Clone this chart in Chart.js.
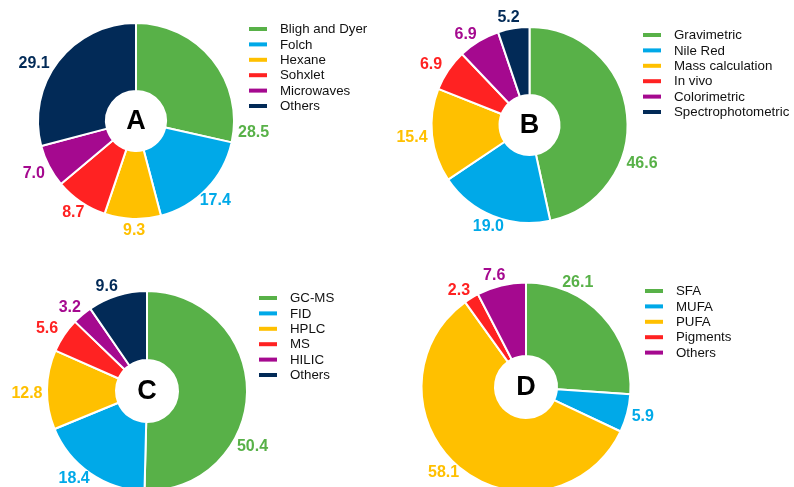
<!DOCTYPE html>
<html>
<head>
<meta charset="utf-8">
<script src="https://cdn.jsdelivr.net/npm/chart.js@4.4.1/dist/chart.umd.min.js"></script>
<style>
  html, body { margin: 0; padding: 0; background: #fff; overflow: hidden; width: 794px; height: 487px; }
  .panel { position: absolute; }
</style>
</head>
<body>
<div class="panel" style="left:0;top:0"><canvas id="chartA" width="397" height="245"></canvas></div>
<div class="panel" style="left:397px;top:0"><canvas id="chartB" width="397" height="245"></canvas></div>
<div class="panel" style="left:0;top:245px"><canvas id="chartC" width="397" height="262"></canvas></div>
<div class="panel" style="left:397px;top:245px"><canvas id="chartD" width="397" height="262"></canvas></div>
<script>
// Lipid extraction methods (%)
const extractionMethods = ['Bligh and Dyer', 'Folch', 'Hexane', 'Sohxlet', 'Microwaves', 'Others'];
const extractionShare = [28.5, 17.4, 9.3, 8.7, 7.0, 29.1];

// Lipid quantification methods (%)
const quantMethods = ['Gravimetric', 'Nile Red', 'Mass calculation', 'In vivo', 'Colorimetric', 'Spectrophotometric'];
const quantShare = [46.6, 19.0, 15.4, 6.9, 6.9, 5.2];

// Lipid analysis techniques (%)
const analysisMethods = ['GC-MS', 'FID', 'HPLC', 'MS', 'HILIC', 'Others'];
const analysisShare = [50.4, 18.4, 12.8, 5.6, 3.2, 9.6];

// Lipid classes reported (%)
const lipidClasses = ['SFA', 'MUFA', 'PUFA', 'Pigments', 'Others'];
const lipidShare = [26.1, 5.9, 58.1, 2.3, 7.6];

const panelLetters = ['A', 'B', 'C', 'D'];

const palette = ['#58B148', '#00A9E8', '#FFC000', '#FF2222', '#A5098F', '#022A57'];
const FONT = "'Liberation Sans', Arial, Helvetica, sans-serif";

// Draws the centre letter, the outside value labels and the legend
const doughnutDecor = {
  id: 'doughnutDecor',
  afterDatasetsDraw(chart, args, opts) {
    const ctx = chart.ctx;
    const ds = chart.data.datasets[0];
    const meta = chart.getDatasetMeta(0);
    const colors = ds.backgroundColor;

    ctx.save();
    // white centre disc with panel letter
    const arc0 = meta.data[0];
    ctx.beginPath();
    ctx.arc(arc0.x, arc0.y, opts.hole, 0, Math.PI * 2);
    ctx.fillStyle = '#fff';
    ctx.fill();
    ctx.fillStyle = '#000';
    ctx.font = 'bold 27px ' + FONT;
    ctx.textAlign = 'center';
    ctx.textBaseline = 'middle';
    ctx.fillText(opts.letter, arc0.x, arc0.y + 1);

    // value labels just outside each slice; labelAt = position along the slice (0..1)
    ctx.font = 'bold 16px ' + FONT;
    meta.data.forEach((arc, i) => {
      const frac = (opts.labelAt && opts.labelAt[i] != null) ? opts.labelAt[i] : 0.5;
      const a = arc.startAngle + (arc.endAngle - arc.startAngle) * frac;
      const txt = ds.data[i].toFixed(1);
      const hw = ctx.measureText(txt).width / 2;
      const hh = 7;
      const c = Math.abs(Math.cos(a)), s = Math.abs(Math.sin(a));
      const t = Math.min(c > 1e-6 ? hw / c : 1e9, s > 1e-6 ? hh / s : 1e9);
      const d = arc.outerRadius + opts.gap + t;
      ctx.fillStyle = colors[i];
      ctx.fillText(txt, arc.x + Math.cos(a) * d, arc.y + Math.sin(a) * d);
    });

    // legend
    ctx.font = '13.3px ' + FONT;
    ctx.textAlign = 'left';
    chart.data.labels.forEach((lab, i) => {
      const y = opts.legendY + i * 15.4;
      ctx.fillStyle = colors[i];
      ctx.fillRect(opts.legendX, y - 2, 18, 4);
      ctx.fillStyle = '#111';
      ctx.fillText(lab, opts.legendX + 31, y + 0.5);
    });
    ctx.restore();
  }
};

function makeDoughnut(id, labels, values, layout) {
  const canvas = document.getElementById(id);
  const W = canvas.width, H = canvas.height;
  const s = Math.min(layout.cx, layout.cy, W - layout.cx, H - layout.cy);
  return new Chart(canvas, {
    type: 'doughnut',
    data: {
      labels: labels,
      datasets: [{
        data: values,
        backgroundColor: palette.slice(0, values.length),
        borderColor: '#fff',
        borderWidth: 2,
        radius: layout.r + 1,
        cutout: (layout.hole / (layout.r + 1) * 100) + '%'
      }]
    },
    options: {
      responsive: false,
      animation: false,
      events: [],
      radius: layout.r + 1,
      cutout: (layout.hole / (layout.r + 1) * 100) + '%',
      layout: {
        padding: {
          left: layout.cx - s,
          right: W - layout.cx - s,
          top: layout.cy - s,
          bottom: H - layout.cy - s
        }
      },
      plugins: {
        legend: { display: false },
        tooltip: { enabled: false },
        doughnutDecor: {
          letter: layout.letter,
          hole: layout.hole,
          gap: 4.5,
          labelAt: layout.labelAt,
          legendX: layout.legendX,
          legendY: layout.legendY
        }
      }
    },
    plugins: [doughnutDecor]
  });
}

makeDoughnut('chartA', extractionMethods, extractionShare, {
  letter: panelLetters[0], cx: 136, cy: 121, r: 97, hole: 30,
  labelAt: [0.93, 0.52, 0.47, 0.5, 0.5, 0.42], legendX: 249, legendY: 29
});
makeDoughnut('chartB', quantMethods, quantShare, {
  letter: panelLetters[1], cx: 132.5, cy: 125, r: 97, hole: 30,
  labelAt: [0.65, 0.5, 0.5, 0.4, 0.34, 0.41], legendX: 246, legendY: 35
});
makeDoughnut('chartC', analysisMethods, analysisShare, {
  letter: panelLetters[2], cx: 147, cy: 146, r: 99, hole: 31,
  labelAt: [0.65, 0.58, 0.46, 0.4, 0.3, 0.39], legendX: 259, legendY: 53
});
makeDoughnut('chartD', lipidClasses, lipidShare, {
  letter: panelLetters[3], cx: 129, cy: 142, r: 103.5, hole: 31,
  labelAt: [0.28, 0.48, 0.52, 0.1, 0.42], legendX: 248, legendY: 46
});
</script>
</body>
</html>
